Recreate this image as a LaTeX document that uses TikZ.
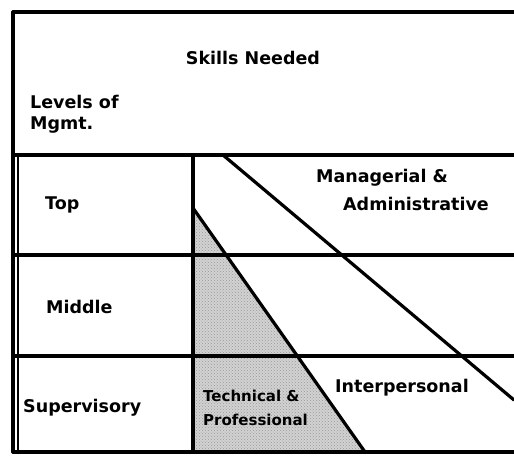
\documentclass[tikz,border=0pt]{standalone}
\usepackage{fontspec}
\setmainfont{DejaVu Sans}
\usetikzlibrary{patterns}
\begin{document}
\begin{tikzpicture}[x=1pt,y=-1pt,
  rule/.style={line width=3.2pt, line cap=round},
  thin rule/.style={line width=1.8pt},
  lbl/.style={font=\bfseries\fontsize{17.5}{19}\selectfont, inner sep=0pt},
  small lbl/.style={font=\bfseries\fontsize{15}{16}\selectfont, inner sep=0pt, align=left}]
\useasboundingbox (0,0) rectangle (514,456);
% shaded triangle (technical & professional)
\fill[gray!35] (193,208) -- (365,452) -- (193,452) -- cycle;
\fill[pattern=crosshatch dots, pattern color=gray!80] (193,208) -- (365,452) -- (193,452) -- cycle;
% frame
\draw[rule] (13,12) -- (514,12);
\draw[rule] (13,12) -- (13,452);
\draw[thin rule] (18,155) -- (18,452);
\draw[rule] (13,452) -- (514,452);
\draw[rule] (13,155) -- (514,155);
\draw[rule] (13,255) -- (514,255);
\draw[rule] (13,356) -- (514,356);
\draw[rule] (193,155) -- (193,452);
% diagonals
\draw[rule] (223,155) -- (514,400);
\draw[rule] (193,208) -- (365,452);
% texts
\node[lbl] (skills) at (253,58) {Skills Needed};
\node[lbl, anchor=west] (levels) at (30,102) {Levels of};
\node[lbl, anchor=west] (mgmt) at (30,125) {Mgmt.};
\node[lbl, anchor=west] (top) at (45,205) {Top};
\node[lbl, anchor=west] (middle) at (46,307) {Middle};
\node[lbl, anchor=west] (super) at (23,408) {Supervisory};
\node[lbl, anchor=west] (man) at (316,178) {Managerial \&};
\node[lbl, anchor=west] (adm) at (343,204) {Administrative};
\node[lbl, anchor=west] (inter) at (335,388) {Interpersonal};
\node[small lbl, anchor=west] (tech) at (203,396) {Technical \&};
\node[small lbl, anchor=west] (prof) at (203,420) {Professional};
\end{tikzpicture}
\end{document}
